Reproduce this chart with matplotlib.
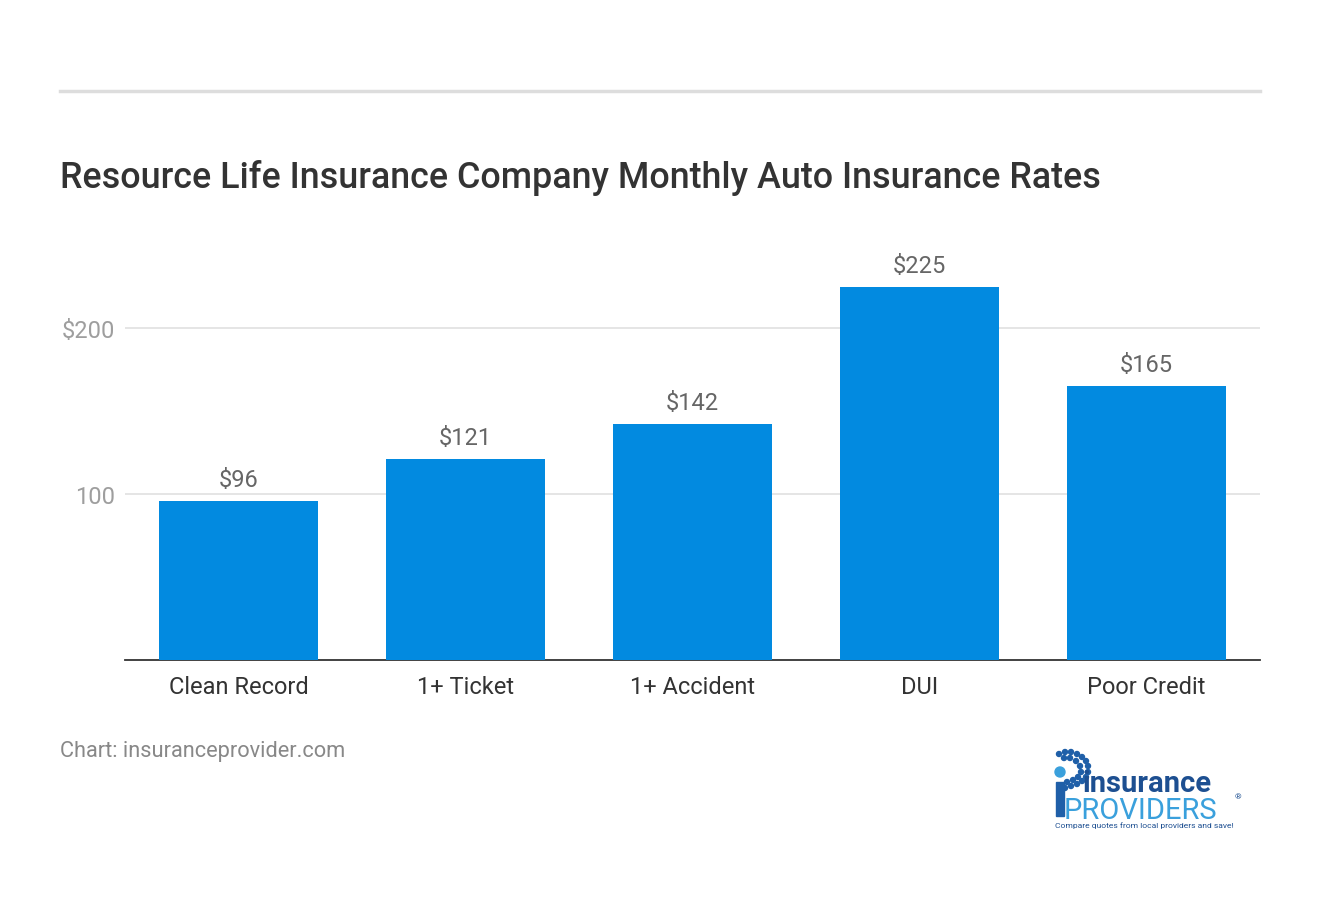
import matplotlib
matplotlib.use("Agg")
import matplotlib.pyplot as plt
import numpy as np

categories = ["Clean Record", "1+ Ticket", "1+ Accident", "DUI", "Poor Credit"]
values = [96, 121, 142, 225, 165]
ytick_vals = [100, 200]
ytick_labels = ["100", "$200"]

plt.rcParams['font.family'] = ['Roboto', 'DejaVu Sans']

W, H = 1320, 920
fig = plt.figure(figsize=(W/100, H/100), dpi=100)

def fx(x): return x / W
def fy(y): return 1 - y / H

# top rule
fig.add_artist(plt.Line2D([fx(60), fx(1260)], [fy(92), fy(92)], color="#dddddd", lw=2.5))

# title
fig.text(fx(60), fy(178), "Resource Life Insurance Company Monthly Auto Insurance Rates",
         fontsize=25.8, fontweight="medium", color="#333333", va="center", ha="left")

ax = fig.add_axes([fx(125), fy(661), fx(1260) - fx(125), (661 - 246) / H])
x = np.arange(len(categories))
ax.bar(x, values, width=0.70, color="#028ae0", zorder=3)
ax.set_xlim(-0.5, len(categories) - 0.5)
ax.set_ylim(0, 250)
for xi, v in zip(x, values):
    ax.text(xi, v + 6, f"${v}", ha="center", va="bottom", fontsize=17, color="#666666")

ax.set_yticks(ytick_vals)
ax.set_yticklabels(ytick_labels)
ax.grid(axis="y", color="#e0e0e0", lw=1.2, zorder=0)
ax.set_xticks(x)
ax.set_xticklabels(categories)
for s in ["top", "right", "left"]:
    ax.spines[s].set_visible(False)
ax.spines["bottom"].set_color("#333333")
ax.spines["bottom"].set_linewidth(1.3)
ax.tick_params(axis="x", length=0, pad=11, labelsize=17, labelcolor="#333333")
ax.tick_params(axis="y", length=0, pad=7, labelsize=17, labelcolor="#9e9e9e")

# source
fig.text(fx(60), fy(752), "Chart: insuranceprovider.com", fontsize=15.7, color="#888888",
         va="center", ha="left")

# logo approximation
lax = fig.add_axes([fx(1045), fy(835), 220 / W, 90 / H])
lax.set_xlim(0, 220)
lax.set_ylim(90, 0)
lax.axis("off")
dots = [(14, 10), (20, 8), (26, 8), (32, 10), (37, 13), (41, 17), (43, 22), (43, 28),
        (41, 33), (37, 37), (32, 40), (26, 42), (20, 44),
        (19, 14), (25, 14), (31, 17), (35, 22), (36, 28), (33, 33), (28, 36), (22, 38)]
for (dx, dy) in dots:
    lax.add_patch(plt.Circle((dx, dy), 2.5, color="#1f5fa8"))
lax.add_patch(plt.Circle((15, 28), 5, color="#3aa0dc"))
lax.add_patch(plt.Rectangle((11, 38), 8, 34, color="#1f5fa8"))
lax.text(38, 47, "insurance", fontsize=21, fontweight="bold", color="#1d4f91", va="baseline")
lax.text(19, 74, "PROVIDERS", fontsize=21, color="#3aa0dc", va="baseline")
lax.text(190, 54, "®", fontsize=6, color="#1d4f91", va="baseline")
lax.text(10, 81, "Compare quotes from local providers and save!", fontsize=6.1,
         color="#1d4f91", va="center")

fig.savefig("out.png", dpi=100)
